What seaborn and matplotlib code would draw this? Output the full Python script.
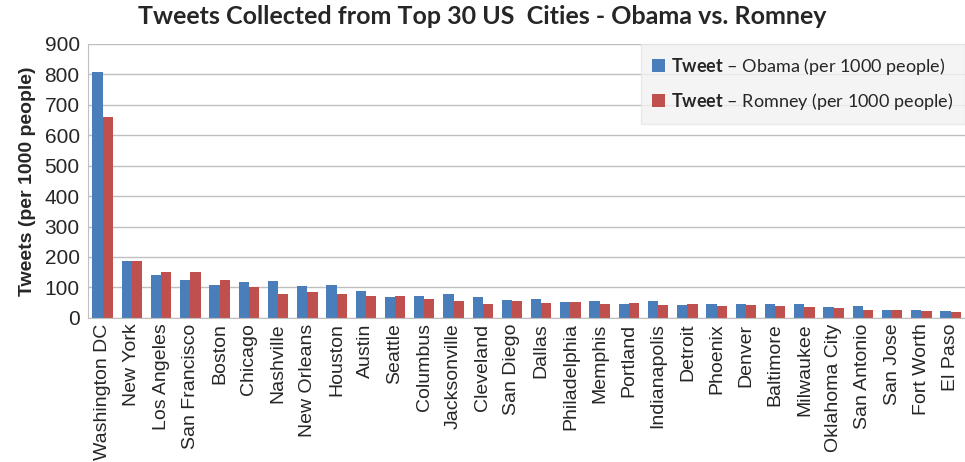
import matplotlib
matplotlib.use("Agg")
import matplotlib.pyplot as plt
import seaborn as sns
import pandas as pd
from matplotlib.ticker import FixedLocator

cities = ["Washington DC", "New York", "Los Angeles", "San Francisco", "Boston", "Chicago",
          "Nashville", "New Orleans", "Houston", "Austin", "Seattle", "Columbus",
          "Jacksonville", "Cleveland", "San Diego", "Dallas", "Philadelphia", "Memphis",
          "Portland", "Indianapolis", "Detroit", "Phoenix", "Denver", "Baltimore",
          "Milwaukee", "Oklahoma City", "San Antonio", "San Jose", "Fort Worth", "El Paso"]
obama = [808, 186, 141, 125, 108, 117, 120, 106, 108, 87, 68, 73, 79, 68, 60, 62, 53, 57,
         46, 55, 43, 47, 47, 47, 44, 36, 38, 27, 27, 23]
romney = [661, 186, 152, 149, 123, 103, 79, 86, 79, 71, 73, 62, 55, 44, 55, 49, 53, 44,
          49, 41, 47, 38, 41, 38, 36, 31, 25, 26, 23, 20]
series_labels = [r"$\mathbf{Tweet}$ – Obama (per 1000 people)",
                 r"$\mathbf{Tweet}$ – Romney (per 1000 people)"]
yticks = [0, 100, 200, 300, 400, 500, 600, 700, 800, 900]

sns.set_style("white")
plt.rcParams["font.family"] = ["Liberation Sans", "DejaVu Sans"]
plt.rcParams["mathtext.fontset"] = "custom"
plt.rcParams["mathtext.bf"] = "Lato:bold"
plt.rcParams["mathtext.rm"] = "Lato"

df = pd.DataFrame({
    "city": cities * 2,
    "value": obama + romney,
    "series": [series_labels[0]] * len(cities) + [series_labels[1]] * len(cities),
})

fig = plt.figure(figsize=(9.65, 4.62), dpi=100)
ax = fig.add_axes([0.0912, 0.312, 0.909, 0.593])

sns.barplot(data=df, x="city", y="value", hue="series", order=cities,
            hue_order=series_labels, palette=["#4a7ebb", "#c0504d"],
            width=0.7, saturation=1, ax=ax, errorbar=None, linewidth=0)

ax.set_xlim(-0.5, len(cities) - 0.5)
ax.set_ylim(0, 900)
ax.set_yticks(yticks)
ax.set_yticklabels([str(t) for t in yticks], fontsize=15)
ax.yaxis.grid(True, color="#bfbfbf", linewidth=1)
ax.set_axisbelow(True)
ax.tick_params(axis="y", length=0, pad=6)
ax.set_xticks(range(len(cities)))
ax.set_xticklabels(cities, rotation=90, fontsize=14)
ax.tick_params(axis="x", which="major", length=0, pad=4)
ax.xaxis.set_minor_locator(FixedLocator([i - 0.5 for i in range(len(cities) + 1)]))
ax.tick_params(axis="x", which="minor", length=5, color="#bfbfbf", direction="out")
for s in ["top", "right"]:
    ax.spines[s].set_visible(False)
for s in ["left", "bottom"]:
    ax.spines[s].set_color("#bfbfbf")
ax.set_xlabel("")
ax.set_ylabel("Tweets (per 1000 people)", fontsize=14, fontweight="bold", labelpad=6)

fig.suptitle("Tweets Collected from Top 30 US  Cities - Obama vs. Romney",
             fontsize=18, fontweight="bold", family=["Lato", "DejaVu Sans"], y=0.99)

leg = ax.legend(loc="upper right", bbox_to_anchor=(1.0, 1.0), frameon=True,
                prop={"family": "Lato", "size": 13},
                handlelength=0.7, handleheight=0.7, handletextpad=0.35,
                labelspacing=0.8, borderpad=0.65, borderaxespad=0.0, fancybox=False)
leg.get_frame().set_facecolor("#f2f2f2")
leg.get_frame().set_edgecolor("#e6e6e6")

fig.savefig("out.png", dpi=100)
